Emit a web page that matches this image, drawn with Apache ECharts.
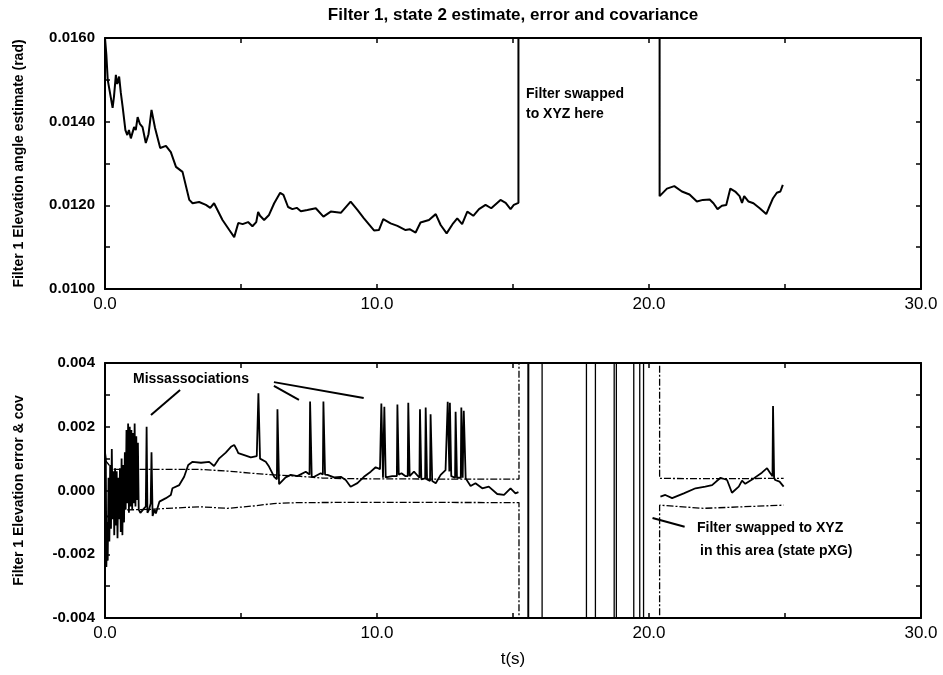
<!DOCTYPE html>
<html>
<head>
<meta charset="utf-8">
<script src="https://cdn.jsdelivr.net/npm/echarts@6/dist/echarts.min.js"></script>
<style>
  html, body { margin: 0; padding: 0; background: #fff; }
  #chart { width: 943px; height: 675px; }
</style>
</head>
<body>
<div id="chart"></div>
<script>
// Filter 1, state 2: elevation angle estimate (rad) vs time (s)
const estT = [0.00,0.05,0.10,0.16,0.28,0.33,0.40,0.45,0.52,0.58,
  0.65,0.75,0.82,0.88,0.95,1.07,1.13,1.20,1.28,1.38,
  1.50,1.60,1.71,1.84,2.03,2.24,2.42,2.61,2.85,3.10,
  3.22,3.46,3.71,3.87,4.01,4.32,4.57,4.75,4.90,5.06,
  5.26,5.42,5.56,5.63,5.70,5.85,6.03,6.22,6.44,6.56,
  6.73,6.89,7.05,7.20,7.44,7.75,8.03,8.30,8.67,9.03,
  9.28,9.52,9.89,10.07,10.23,10.50,10.75,11.05,11.20,11.42,
  11.60,11.91,12.16,12.34,12.56,12.80,12.95,13.13,13.32,13.54,
  13.75,13.99,14.20,14.54,14.73,14.91,15.03,15.20,15.20,null,
  20.39,20.39,20.66,20.93,21.21,21.49,21.76,21.98,22.23,22.37,
  22.52,22.68,22.84,22.99,23.17,23.33,23.42,23.50,23.66,23.84,
  24.07,24.31,24.40,24.56,24.70,24.83,24.92];
// 0.0200 marks the estimate leaving the scale while the filter runs in XYZ
const estV = [0.0160,0.0156,0.0150,0.0150,0.01433,0.01460,0.01512,0.01490,0.01508,0.01470,
  0.01435,0.01380,0.01368,0.01380,0.01360,0.01387,0.01380,0.01411,0.01395,0.01387,
  0.01349,0.01370,0.01428,0.01385,0.01337,0.01342,0.01327,0.01292,0.01280,0.01213,
  0.01205,0.01208,0.01201,0.01194,0.01205,0.01165,0.01141,0.01124,0.01158,0.01155,
  0.01160,0.01150,0.01160,0.01184,0.01175,0.01165,0.01177,0.01205,0.01230,0.01225,
  0.01196,0.01191,0.01194,0.01186,0.01189,0.01193,0.01173,0.01185,0.01182,0.01209,
  0.01189,0.01169,0.01140,0.01141,0.01167,0.01157,0.01151,0.01141,0.01143,0.01135,
  0.01159,0.01165,0.01179,0.01153,0.01133,0.01157,0.01169,0.01155,0.01185,0.01175,
  0.01191,0.01201,0.01193,0.01213,0.01206,0.01191,0.01201,0.01206,0.0200,null,
  0.0200,0.01222,0.01240,0.01246,0.01233,0.01226,0.01209,0.01213,0.01214,0.01205,
  0.01191,0.01199,0.01201,0.01240,0.01233,0.01222,0.01206,0.01222,0.01209,0.01205,
  0.01193,0.01179,0.01193,0.01217,0.01230,0.01233,0.01249];

// Elevation error
const errT = [0.00,0.03,0.05,0.08,0.10,0.13,0.16,0.19,0.22,0.25,
  0.28,0.31,0.34,0.37,0.40,0.43,0.46,0.49,0.52,0.55,
  0.58,0.61,0.64,0.67,0.70,0.73,0.76,0.79,0.82,0.85,
  0.88,0.91,0.94,0.97,1.00,1.03,1.06,1.09,1.12,1.15,
  1.18,1.21,1.24,1.30,1.40,1.50,1.53,1.56,1.62,1.68,
  1.71,1.75,1.82,1.87,
  2.00,2.24,2.42,2.48,2.73,2.91,3.06,3.22,3.53,3.83,
  4.01,4.20,4.44,4.63,4.75,4.85,4.90,5.12,5.36,5.58,
  5.62,5.64,5.70,5.73,5.91,6.03,6.22,6.32,6.34,6.40,
  6.46,6.64,6.83,7.07,7.38,7.52,7.54,7.60,7.69,7.93,
  8.01,8.03,8.09,8.18,8.42,8.67,8.85,9.03,9.28,9.52,
  9.77,9.95,10.11,10.16,10.22,10.27,10.32,10.38,10.56,10.73,
  10.75,10.80,10.90,11.05,11.13,11.15,11.20,11.36,11.56,11.58,
  11.63,11.77,11.79,11.84,11.95,11.97,12.03,12.16,12.34,12.52,
  12.58,12.60,12.66,12.68,12.73,12.87,12.89,12.94,13.08,13.10,
  13.15,13.19,13.26,13.30,13.44,13.62,13.87,14.11,14.42,14.67,
  14.91,15.09,15.20,null,
  20.42,20.60,20.85,21.28,21.71,22.07,22.32,22.63,22.87,23.05,
  23.30,23.42,23.54,23.85,24.15,24.34,24.46,24.54,24.56,24.60,
  24.64,24.80,24.95];
const errV = [0.0012,0.0010,-0.0024,-0.0010,-0.0022,0.0004,-0.0016,0.0008,-0.0012,0.0013,
  -0.0009,0.0006,-0.0014,0.0007,-0.0011,0.0006,-0.0015,0.0004,-0.0009,0.0007,
  -0.0013,0.0010,-0.0014,0.0008,-0.0010,0.0012,-0.0006,0.0019,-0.0004,0.0021,
  -0.0007,0.0020,-0.0005,0.0019,-0.0006,0.0018,-0.0004,0.0021,-0.0005,0.0017,
  -0.0003,0.0015,-0.0006,-0.0007,-0.0006,-0.0005,0.0020,-0.0007,-0.0006,-0.0004,
  0.0012,-0.0008,-0.0006,-0.00072,
  -0.00035,-0.00024,-0.00014,0.00007,0.00017,0.00043,0.00080,0.00090,0.00087,0.00090,
  0.00077,0.00101,0.00119,0.00137,0.00143,0.00127,0.00117,0.00111,0.00104,0.00108,
  0.00108,0.00305,0.00100,0.00096,0.00090,0.00075,0.00043,0.00035,0.00255,0.00020,
  0.00023,0.00041,0.00049,0.00045,0.00059,0.00050,0.00279,0.00043,0.00043,0.00054,
  0.00050,0.00279,0.00050,0.00049,0.00041,0.00043,0.00033,0.00012,0.00023,0.00043,
  0.00059,0.00073,0.00067,0.00273,0.00040,0.00263,0.00041,0.00041,0.00045,0.00045,
  0.00270,0.00050,0.00054,0.00045,0.00045,0.00275,0.00045,0.00059,0.00040,0.00255,
  0.00035,0.00038,0.00260,0.00035,0.00030,0.00239,0.00030,0.00023,0.00049,0.00064,
  0.00060,0.00278,0.00060,0.00275,0.00045,0.00040,0.00247,0.00040,0.00040,0.00260,
  0.00040,0.00250,0.00038,0.00038,0.00014,0.00023,0.00007,0.00012,-0.00011,-0.00014,
  0.00007,-0.00009,-0.00005,null,
  -0.00019,-0.00014,-0.00024,-0.00009,0.00007,0.00012,0.00017,0.00040,0.00033,-0.00007,
  0.00012,0.00031,0.00021,0.00038,0.00056,0.00070,0.00054,0.00045,0.00265,0.00040,
  0.00033,0.00028,0.00012];

// Covariance bounds (+ / -); ±0.05 = off scale during the swap
const covUpT = [0.00,0.15,0.30,1.50,3.50,4.50,5.40,6.20,7.10,8.00,9.00,12.00,15.22,15.22,null,20.39,20.39,22.00,24.95];
const covUpV = [0.00096,0.00080,0.00066,0.00066,0.00066,0.00061,0.00054,0.00049,0.00045,0.00039,0.00037,0.00036,0.00036,0.05,null,0.05,0.00038,0.00037,0.00038];
const covLoT = [0.00,0.30,1.70,2.30,3.50,4.50,5.40,6.20,7.10,10.00,15.22,15.22,null,20.39,20.39,22.00,24.95];
const covLoV = [-0.00090,-0.00062,-0.00059,-0.00056,-0.00051,-0.00056,-0.00049,-0.00041,-0.00038,-0.00037,-0.00038,-0.05,null,-0.05,-0.00046,-0.00056,-0.00046];

// Off-scale samples while the filter is swapped to XYZ
const swapT = [15.55,15.55,15.60,15.60,16.07,16.07,17.70,17.70,18.03,18.03,18.72,18.72,18.80,18.80,19.44,19.44,19.66,19.66,19.80,19.80];
const swapV = [0.05,-0.05,-0.05,0.05,0.05,-0.05,-0.05,0.05,0.05,-0.05,-0.05,0.05,0.05,-0.05,-0.05,0.05,0.05,-0.05,-0.05,0.05];

// Axis ranges and tick labels
const tRange = [0, 30];
const estRange = [0.010, 0.016];
const errRange = [-0.004, 0.004];
const tLabels = ['0.0', '10.0', '20.0', '30.0'];

const FONT = '"Liberation Sans", Arial, Helvetica, sans-serif';
const pairs = (t, v) => t.map((x, i) => (x === null || v[i] === null) ? [NaN, NaN] : [x, v[i]]);

function xAxisDef(grid, pos, withLabels, extra) {
  return Object.assign({
    type: 'value', gridIndex: grid, position: pos,
    min: tRange[0], max: tRange[1], interval: 5,
    axisLine: { show: true, onZero: false, lineStyle: { color: '#000', width: 2 } },
    axisTick: { show: true, inside: true, length: 5, lineStyle: { color: '#000', width: 1.5 } },
    splitLine: { show: false },
    axisLabel: {
      show: withLabels, margin: 7, color: '#000', fontSize: 17, fontFamily: FONT,
      formatter: v => (Math.round(v) % 10 === 0 ? tLabels[Math.round(v) / 10] : '')
    }
  }, extra || {});
}
function yAxisDef(grid, pos, range, digits, withLabels, extra) {
  return Object.assign({
    type: 'value', gridIndex: grid, position: pos,
    min: range[0], max: range[1], interval: 0.001,
    axisLine: { show: true, onZero: false, lineStyle: { color: '#000', width: 2 } },
    axisTick: { show: true, inside: true, length: 5, lineStyle: { color: '#000', width: 1.5 } },
    splitLine: { show: false },
    axisLabel: {
      show: withLabels, margin: 10, color: '#000', fontSize: 15, fontWeight: 'bold', fontFamily: FONT,
      formatter: v => { const k = Math.round(v * 1000); return k % 2 === 0 ? (k / 1000).toFixed(digits) : ''; }
    }
  }, extra || {});
}

const chart = echarts.init(document.getElementById('chart'), null, { renderer: 'canvas' });
const nameStyle = { color: '#000', fontSize: 14, fontWeight: 'bold', fontFamily: FONT };
const annoFont = { fill: '#000', fontSize: 14, fontWeight: 'bold', fontFamily: FONT };

chart.setOption({
  animation: false,
  backgroundColor: '#fff',
  grid: [
    { left: 105, top: 38, width: 816, height: 251 },
    { left: 105, top: 363, width: 816, height: 255 }
  ],
  xAxis: [
    xAxisDef(0, 'bottom', true),
    xAxisDef(0, 'top', false),
    xAxisDef(1, 'bottom', true, { name: 't(s)', nameLocation: 'middle', nameGap: 33,
      nameTextStyle: { color: '#000', fontSize: 17, fontFamily: FONT } }),
    xAxisDef(1, 'top', false)
  ],
  yAxis: [
    yAxisDef(0, 'left', estRange, 4, true, { name: 'Filter 1 Elevation angle estimate (rad)',
      nameLocation: 'middle', nameGap: 79, nameTextStyle: nameStyle }),
    yAxisDef(0, 'right', estRange, 4, false),
    yAxisDef(1, 'left', errRange, 3, true, { name: 'Filter 1 Elevation error & cov',
      nameLocation: 'middle', nameGap: 79, nameTextStyle: nameStyle }),
    yAxisDef(1, 'right', errRange, 3, false)
  ],
  series: [
    { name: 'estimate', type: 'line', xAxisIndex: 0, yAxisIndex: 0, data: pairs(estT, estV),
      symbol: 'none', clip: true, connectNulls: false, lineStyle: { color: '#000', width: 2 } },
    { name: 'cov +', type: 'line', xAxisIndex: 2, yAxisIndex: 2, data: pairs(covUpT, covUpV),
      symbol: 'none', clip: true, connectNulls: false,
      lineStyle: { color: '#000', width: 1.3, type: [7, 2, 2, 2] },
      markLine: {
        silent: true, symbol: ['none', 'none'], label: { show: false },
        lineStyle: { color: '#000', width: 2, type: 'solid' },
        data: [
          [{ coord: [2.76, 0.00315] }, { coord: [1.69, 0.00237] }],
          [{ coord: [6.21, 0.00328] }, { coord: [7.13, 0.00284] }],
          [{ coord: [6.21, 0.00340] }, { coord: [9.51, 0.00290] }],
          [{ coord: [20.13, -0.00086] }, { coord: [21.31, -0.00114] }]
        ]
      } },
    { name: 'cov -', type: 'line', xAxisIndex: 2, yAxisIndex: 2, data: pairs(covLoT, covLoV),
      symbol: 'none', clip: true, connectNulls: false,
      lineStyle: { color: '#000', width: 1.3, type: [7, 2, 2, 2] } },
    { name: 'XYZ', type: 'line', xAxisIndex: 2, yAxisIndex: 2, data: pairs(swapT, swapV),
      symbol: 'none', clip: true, lineStyle: { color: '#000', width: 1.3 } },
    { name: 'error', type: 'line', xAxisIndex: 2, yAxisIndex: 2, data: pairs(errT, errV),
      symbol: 'none', clip: true, connectNulls: false, lineStyle: { color: '#000', width: 1.8 } }
  ],
  graphic: [
    { type: 'text', x: 513, y: 15, silent: true,
      style: { text: 'Filter 1, state 2 estimate, error and covariance', align: 'center', verticalAlign: 'middle',
        fill: '#000', fontSize: 17, fontWeight: 'bold', fontFamily: FONT } },
    { type: 'text', x: 526, y: 94, silent: true,
      style: Object.assign({ text: 'Filter swapped', verticalAlign: 'middle' }, annoFont) },
    { type: 'text', x: 526, y: 114, silent: true,
      style: Object.assign({ text: 'to XYZ here', verticalAlign: 'middle' }, annoFont) },
    { type: 'text', x: 133, y: 379, silent: true,
      style: Object.assign({ text: 'Missassociations', verticalAlign: 'middle' }, annoFont) },
    { type: 'text', x: 697, y: 528, silent: true,
      style: Object.assign({ text: 'Filter swapped to XYZ', verticalAlign: 'middle' }, annoFont) },
    { type: 'text', x: 700, y: 551, silent: true,
      style: Object.assign({ text: 'in this area (state pXG)', verticalAlign: 'middle' }, annoFont) }
  ]
});
</script>
</body>
</html>
